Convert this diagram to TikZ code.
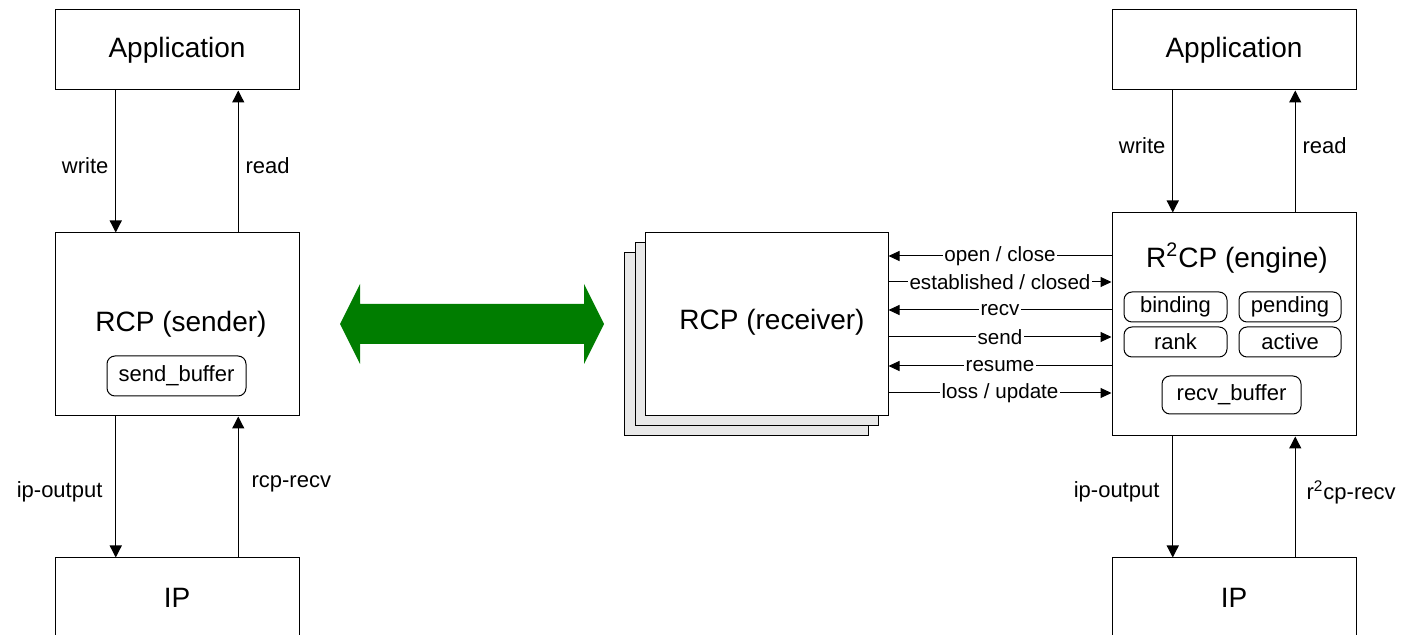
\documentclass[tikz,border=0pt]{standalone}
\usepackage{fontspec}
\setmainfont{Liberation Sans}
\usetikzlibrary{calc,arrows.meta}
\definecolor{arrowgreen}{RGB}{0,125,0}
\definecolor{stackgray}{RGB}{232,232,232}
\tikzset{
  bigbox/.style={draw, line width=0.5pt, fill=white, inner sep=0pt, minimum width=122pt, font=\fontsize{14}{16}\selectfont},
  tagbox/.style={draw, line width=0.5pt, rounded corners=4pt, inner sep=0pt, font=\fontsize{11}{13}\selectfont},
  arr/.style={line width=0.65pt, -{Triangle[length=6pt,width=6pt]}},
  lnk/.style={line width=0.5pt, -{Triangle[length=5.5pt,width=5pt]}},
  lbl/.style={font=\fontsize{11}{13}\selectfont},
  mid/.style={fill=white, inner sep=0.8pt, font=\fontsize{10.3}{12}\selectfont},
}
\begin{document}
\begin{tikzpicture}[x=0.5pt,y=-0.5pt]
\useasboundingbox (0,0) rectangle (1409,635);

% ---------- left column ----------
\node[bigbox, minimum height=40pt] (appL) at (177,50) {Application};
\node[bigbox, minimum height=91.5pt] (rcpS) at (177,324.5) {};
\node[font=\fontsize{14}{16}\selectfont] (rcpStext) at (181,324) {RCP (sender)};
\node[tagbox, minimum width=69.5pt, minimum height=20pt] (sendbuf) at (176.5,376) {send\_buffer};
\node[bigbox, minimum height=40pt] (ipL) at (177,598) {IP};

\draw[arr] ($(appL.south west)!.25!(appL.south east)$) -- node[lbl, pos=.53, left] (wL) {write} ($(rcpS.north west)!.25!(rcpS.north east)$);
\draw[arr] ($(rcpS.north west)!.75!(rcpS.north east)$) -- node[lbl, pos=.47, right] (rL) {read} ($(appL.south west)!.75!(appL.south east)$);
\draw[arr] ($(rcpS.south west)!.25!(rcpS.south east)$) -- node[lbl, pos=.535, left, xshift=-3pt] (ioL) {ip-output} ($(ipL.north west)!.25!(ipL.north east)$);
\draw[arr] ($(ipL.north west)!.75!(ipL.north east)$) -- node[lbl, pos=.52, right, xshift=3pt] (rrL) {rcp-recv} ($(rcpS.south west)!.75!(rcpS.south east)$);

% ---------- green double arrow ----------
\fill[arrowgreen] (340,324) -- (360,284) -- (360,304) -- (584,304) -- (584,284) -- (604,324)
  -- (584,364) -- (584,344) -- (360,344) -- (360,364) -- cycle;

% ---------- receiver stack ----------
\node[draw, line width=0.5pt, fill=stackgray, minimum width=122pt, minimum height=91.5pt] (recv3) at (746,344.5) {};
\node[draw, line width=0.5pt, fill=stackgray, minimum width=121.5pt, minimum height=91.5pt] (recv2) at (756.5,334.5) {};
\node[bigbox, minimum width=121.5pt, minimum height=91.5pt] (recv) at (766.5,324.5) {};
\node[font=\fontsize{14}{16}\selectfont] (recvtext) at (772,322) {RCP (receiver)};

% ---------- engine (right) ----------
\node[bigbox, minimum height=111.5pt] (engine) at (1234,324.5) {};
\node[font=\fontsize{14}{16}\selectfont] (enginetext) at (1237,258) {R\textsuperscript{2}CP (engine)};
\node[tagbox, minimum width=51.5pt, minimum height=15pt] (binding) at (1175.5,307) {binding};
\node[tagbox, minimum width=51pt, minimum height=15pt] (pending) at (1290,307) {pending};
\node[tagbox, minimum width=51.5pt, minimum height=15pt] (rank) at (1175.5,342) {rank};
\node[tagbox, minimum width=51pt, minimum height=15pt] (active) at (1290,342) {active};
\node[tagbox, minimum width=69.5pt, minimum height=19pt] (recvbuf) at (1231.5,395) {recv\_buffer};

\node[bigbox, minimum height=40pt] (appR) at (1234,50) {Application};
\node[bigbox, minimum height=40pt] (ipR) at (1234,598) {IP};

\draw[arr] ($(appR.south west)!.25!(appR.south east)$) -- node[lbl, pos=.455, left] (wR) {write} ($(engine.north west)!.25!(engine.north east)$);
\draw[arr] ($(engine.north west)!.75!(engine.north east)$) -- node[lbl, pos=.545, right] (rR) {read} ($(appR.south west)!.75!(appR.south east)$);
\draw[arr] ($(engine.south west)!.25!(engine.south east)$) -- node[lbl, pos=.46, left, xshift=-3pt] (ioR) {ip-output} ($(ipR.north west)!.25!(ipR.north east)$);
\draw[arr] ($(ipR.north west)!.75!(ipR.north east)$) -- node[lbl, pos=.54, right, xshift=2pt] (rrR) {r\textsuperscript{2}cp-recv} ($(engine.south west)!.75!(engine.south east)$);

% ---------- receiver <-> engine calls ----------
\draw[lnk] (engine.west |- {$(recv.east)+(0,-68.5)$}) -- node[mid] (l1) {open / close} ($(recv.east)+(0,-68.5)$);
\draw[lnk] ($(recv.east)+(0,-42.5)$) -- node[mid] (l2) {established / closed} (engine.west |- {$(recv.east)+(0,-42.5)$});
\draw[lnk] (engine.west |- {$(recv.east)+(0,-14.5)$}) -- node[mid] (l3) {recv} ($(recv.east)+(0,-14.5)$);
\draw[lnk] ($(recv.east)+(0,12.5)$) -- node[mid] (l4) {send} (engine.west |- {$(recv.east)+(0,12.5)$});
\draw[lnk] (engine.west |- {$(recv.east)+(0,41.5)$}) -- node[mid] (l5) {resume} ($(recv.east)+(0,41.5)$);
\draw[lnk] ($(recv.east)+(0,68.5)$) -- node[mid] (l6) {loss / update} (engine.west |- {$(recv.east)+(0,68.5)$});
\end{tikzpicture}
\end{document}
